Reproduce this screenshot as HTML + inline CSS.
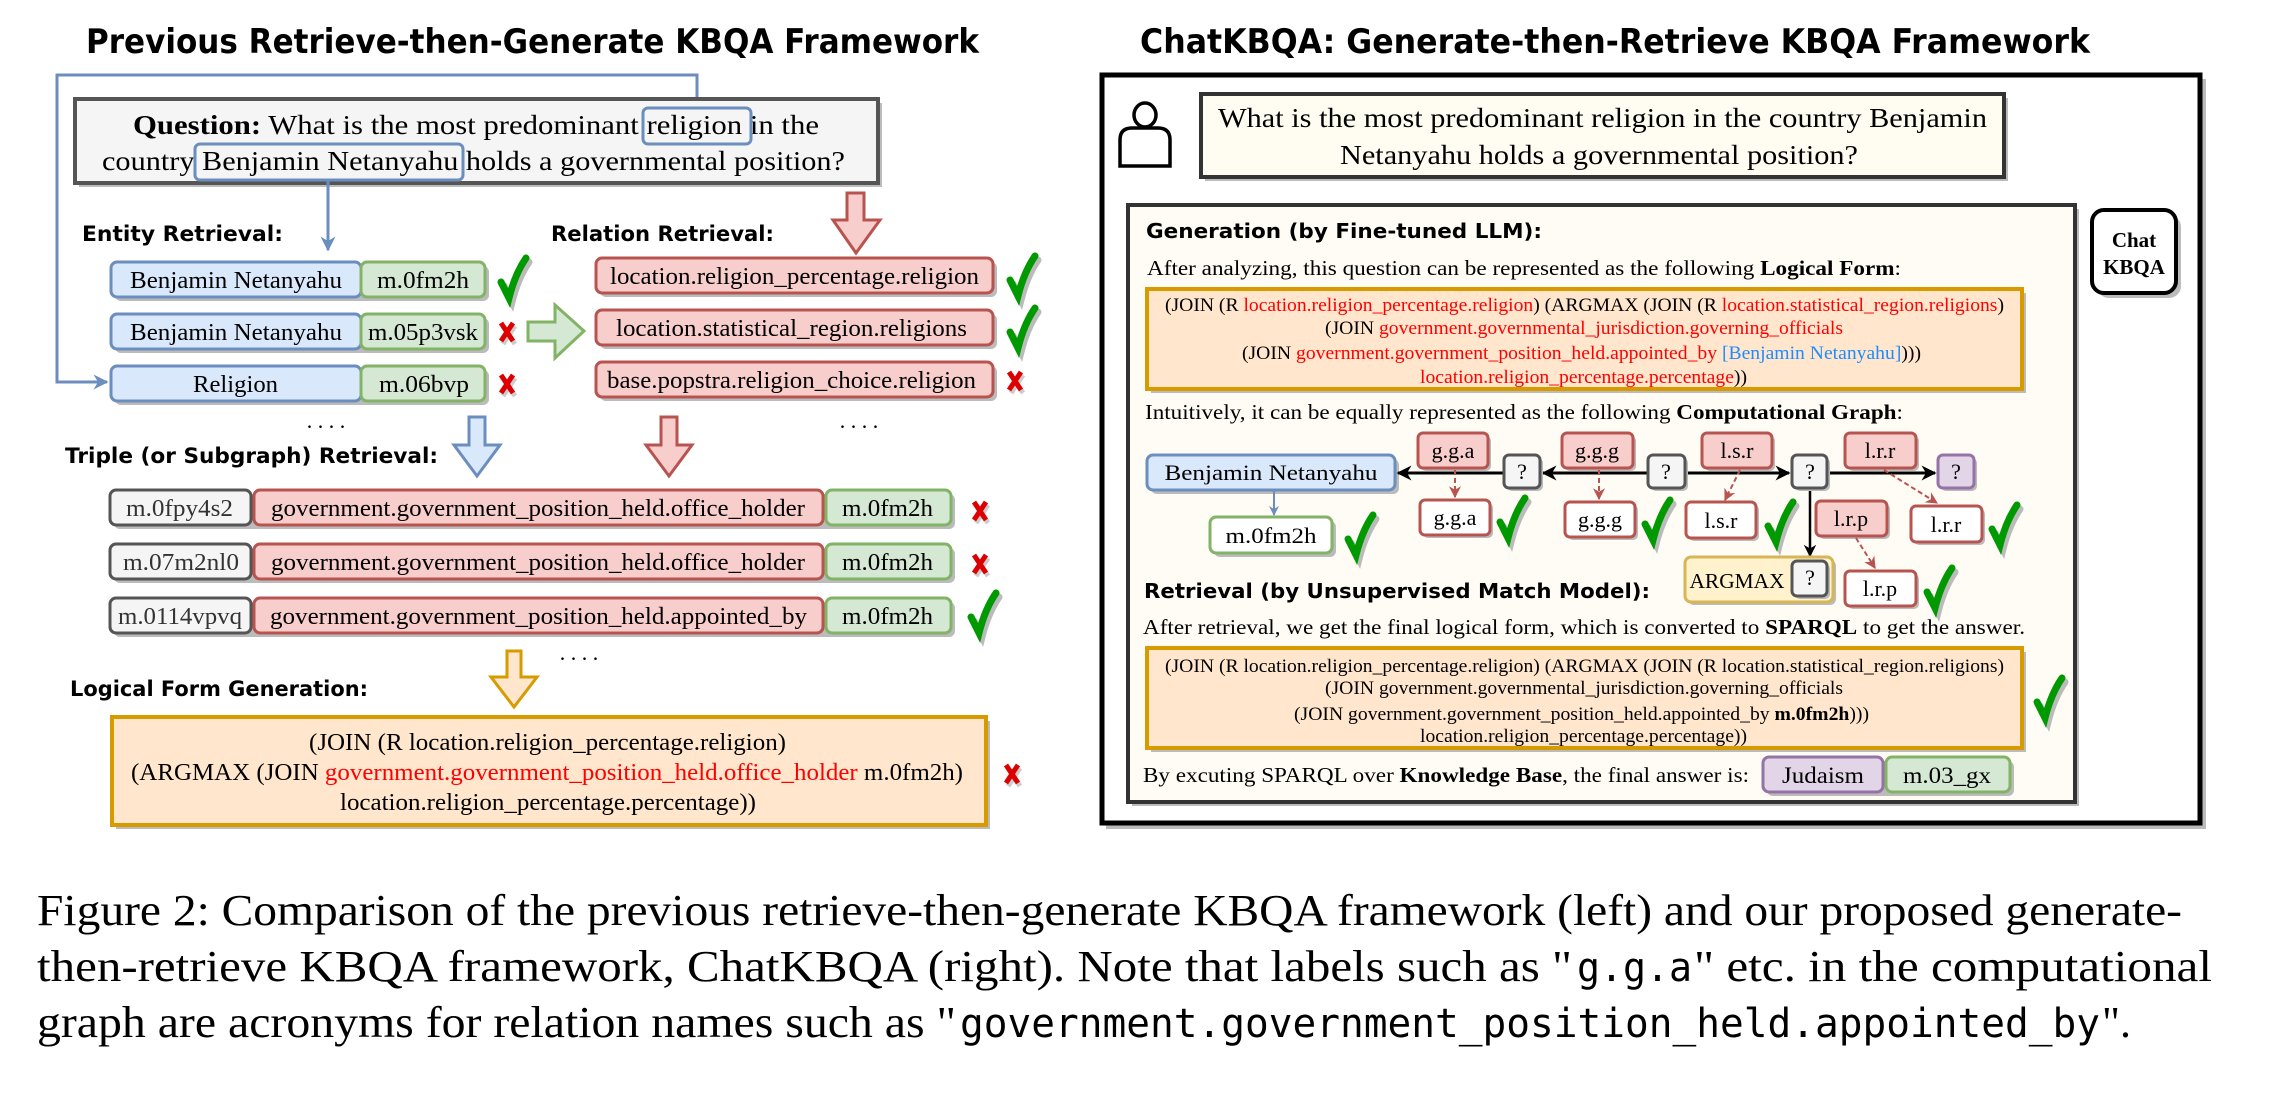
<!DOCTYPE html>
<html><head><meta charset="utf-8"><style>
html,body{margin:0;padding:0;background:#fff;}
svg{display:block;}
.t{font-family:"DejaVu Sans","Liberation Sans",sans-serif;font-weight:bold;fill:#000;}
.s{font-family:"Liberation Serif",serif;fill:#000;}
.m{font-family:"DejaVu Sans Mono","Liberation Mono",monospace;fill:#000;}
</style></head><body>
<svg width="2294" height="1098" viewBox="0 0 2294 1098" xmlns="http://www.w3.org/2000/svg">
<defs>
<marker id="ab" viewBox="0 0 10 10" refX="9" refY="5" markerWidth="5" markerHeight="5" orient="auto"><path d="M0 0L10 5L0 10L3 5z" fill="#6c8ebf"/></marker>
<marker id="ak" viewBox="0 0 10 10" refX="9" refY="5" markerWidth="5" markerHeight="5" orient="auto"><path d="M0 0L10 5L0 10L3 5z" fill="#000"/></marker>
<marker id="ar" viewBox="0 0 10 10" refX="9" refY="5" markerWidth="6" markerHeight="6" orient="auto"><path d="M0 0L10 5L0 10L3 5z" fill="#b85450"/></marker>
<g id="ck"><path d="M-11 2 L-3 18 Q3 -6 14 -22" fill="none" stroke="#bbb" stroke-width="7" stroke-linecap="round" transform="translate(3,4)"/><path d="M-11 2 L-3 18 Q3 -6 14 -22" fill="none" stroke="#009900" stroke-width="7" stroke-linecap="round"/></g>
<g id="xx"><path d="M-6 -9 L6 9 M6 -9 L-6 9" stroke="#ccc" stroke-width="5" transform="translate(2,3)"/><path d="M-6 -9 L6 9 M6 -9 L-6 9" stroke="#d00" stroke-width="5"/></g>
</defs>

<text class="t" x="86" y="53" font-size="34" textLength="893" lengthAdjust="spacingAndGlyphs">Previous Retrieve-then-Generate KBQA Framework</text>

<polyline points="697,108 697,75 57,75 57,382 107,382" fill="none" stroke="#6c8ebf" stroke-width="3" marker-end="url(#ab)"/>

<rect x="79" y="103" width="803" height="84" fill="#bbb"/>
<rect x="75" y="99" width="803" height="84" fill="#f5f5f5" stroke="#555" stroke-width="4"/>
<text class="s" x="133" y="134" font-size="27" textLength="686" lengthAdjust="spacingAndGlyphs"><tspan font-weight="bold">Question:</tspan> What is the most predominant religion in the</text>
<text class="s" x="102" y="170" font-size="27" textLength="743" lengthAdjust="spacingAndGlyphs">country Benjamin Netanyahu holds a governmental position?</text>
<rect x="643" y="108" width="108" height="36" rx="5" fill="none" stroke="#6c8ebf" stroke-width="3"/>
<rect x="195" y="144" width="268" height="36" rx="5" fill="none" stroke="#6c8ebf" stroke-width="3"/>
<line x1="328" y1="180" x2="328" y2="250" stroke="#6c8ebf" stroke-width="3" marker-end="url(#ab)"/>

<text class="t" x="82" y="241" font-size="21" textLength="201" lengthAdjust="spacingAndGlyphs">Entity Retrieval:</text>
<text class="t" x="551" y="241" font-size="21" textLength="223" lengthAdjust="spacingAndGlyphs">Relation Retrieval:</text>

<path d="M847 193 H864 V220 H880 L856 253 L833 220 H847 Z" fill="#f8cecc" stroke="#b85450" stroke-width="3"/>

<g font-size="24" class="s" lengthAdjust="spacingAndGlyphs">
<rect x="115" y="266" width="374" height="35" rx="6" fill="#bbb"/>
<rect x="111" y="262" width="250" height="35" rx="6" fill="#dae8fc" stroke="#6c8ebf" stroke-width="3"/>
<rect x="361" y="262" width="124" height="35" rx="6" fill="#d5e8d4" stroke="#82b366" stroke-width="3"/>
<text x="130" y="288" textLength="212" lengthAdjust="spacingAndGlyphs">Benjamin Netanyahu</text><text x="377" y="288" textLength="92" lengthAdjust="spacingAndGlyphs">m.0fm2h</text>
<rect x="115" y="318" width="374" height="35" rx="6" fill="#bbb"/>
<rect x="111" y="314" width="250" height="35" rx="6" fill="#dae8fc" stroke="#6c8ebf" stroke-width="3"/>
<rect x="361" y="314" width="124" height="35" rx="6" fill="#d5e8d4" stroke="#82b366" stroke-width="3"/>
<text x="130" y="340" textLength="212" lengthAdjust="spacingAndGlyphs">Benjamin Netanyahu</text><text x="368" y="340" textLength="110" lengthAdjust="spacingAndGlyphs">m.05p3vsk</text>
<rect x="115" y="370" width="374" height="35" rx="6" fill="#bbb"/>
<rect x="111" y="366" width="250" height="35" rx="6" fill="#dae8fc" stroke="#6c8ebf" stroke-width="3"/>
<rect x="361" y="366" width="124" height="35" rx="6" fill="#d5e8d4" stroke="#82b366" stroke-width="3"/>
<text x="193" y="392" textLength="85" lengthAdjust="spacingAndGlyphs">Religion</text><text x="379" y="392" textLength="90" lengthAdjust="spacingAndGlyphs">m.06bvp</text>

<rect x="600" y="262" width="397" height="35" rx="6" fill="#bbb"/>
<rect x="596" y="258" width="397" height="35" rx="6" fill="#f8cecc" stroke="#b85450" stroke-width="3"/>
<text x="610" y="284" textLength="369" lengthAdjust="spacingAndGlyphs">location.religion_percentage.religion</text>
<rect x="600" y="314" width="397" height="35" rx="6" fill="#bbb"/>
<rect x="596" y="310" width="397" height="35" rx="6" fill="#f8cecc" stroke="#b85450" stroke-width="3"/>
<text x="616" y="336" textLength="351" lengthAdjust="spacingAndGlyphs">location.statistical_region.religions</text>
<rect x="600" y="366" width="397" height="35" rx="6" fill="#bbb"/>
<rect x="596" y="362" width="397" height="35" rx="6" fill="#f8cecc" stroke="#b85450" stroke-width="3"/>
<text x="607" y="388" textLength="369" lengthAdjust="spacingAndGlyphs">base.popstra.religion_choice.religion</text>
</g>
<use href="#ck" x="512" y="280"/>
<use href="#xx" x="507" y="332"/>
<use href="#xx" x="507" y="384"/>
<use href="#ck" x="1021" y="278"/>
<use href="#ck" x="1021" y="330"/>
<use href="#xx" x="1015" y="381"/>

<path d="M528 322 H555 V305 L584 331 L555 358 V341 H528 Z" fill="#d5e8d4" stroke="#82b366" stroke-width="3"/>

<text class="s" x="326" y="428" font-size="22" text-anchor="middle">. . . .</text>
<text class="s" x="859" y="428" font-size="22" text-anchor="middle">. . . .</text>

<path d="M469 417 H485 V445 H500 L477 476 L454 445 H469 Z" fill="#dae8fc" stroke="#6c8ebf" stroke-width="3"/>
<path d="M661 417 H677 V445 H692 L669 476 L646 445 H661 Z" fill="#f8cecc" stroke="#b85450" stroke-width="3"/>

<text class="t" x="65" y="463" font-size="21" textLength="373" lengthAdjust="spacingAndGlyphs">Triple (or Subgraph) Retrieval:</text>

<g class="s" font-size="24">
<rect x="114" y="494" width="841" height="35" rx="6" fill="#bbb"/>
<rect x="110" y="490" width="141" height="35" rx="6" fill="#f5f5f5" stroke="#555" stroke-width="3"/>
<rect x="254" y="490" width="569" height="35" rx="6" fill="#f8cecc" stroke="#b85450" stroke-width="3"/>
<rect x="826" y="490" width="125" height="35" rx="6" fill="#d5e8d4" stroke="#82b366" stroke-width="3"/>
<text x="126" y="516" fill="#333" textLength="107" lengthAdjust="spacingAndGlyphs">m.0fpy4s2</text><text x="271" y="516" textLength="534" lengthAdjust="spacingAndGlyphs">government.government_position_held.office_holder</text><text x="842" y="516" textLength="91" lengthAdjust="spacingAndGlyphs">m.0fm2h</text>
<rect x="114" y="548" width="841" height="35" rx="6" fill="#bbb"/>
<rect x="110" y="544" width="141" height="35" rx="6" fill="#f5f5f5" stroke="#555" stroke-width="3"/>
<rect x="254" y="544" width="569" height="35" rx="6" fill="#f8cecc" stroke="#b85450" stroke-width="3"/>
<rect x="826" y="544" width="125" height="35" rx="6" fill="#d5e8d4" stroke="#82b366" stroke-width="3"/>
<text x="123" y="570" fill="#333" textLength="116" lengthAdjust="spacingAndGlyphs">m.07m2nl0</text><text x="271" y="570" textLength="534" lengthAdjust="spacingAndGlyphs">government.government_position_held.office_holder</text><text x="842" y="570" textLength="91" lengthAdjust="spacingAndGlyphs">m.0fm2h</text>
<rect x="114" y="602" width="841" height="35" rx="6" fill="#bbb"/>
<rect x="110" y="598" width="141" height="35" rx="6" fill="#f5f5f5" stroke="#555" stroke-width="3"/>
<rect x="254" y="598" width="569" height="35" rx="6" fill="#f8cecc" stroke="#b85450" stroke-width="3"/>
<rect x="826" y="598" width="125" height="35" rx="6" fill="#d5e8d4" stroke="#82b366" stroke-width="3"/>
<text x="118" y="624" fill="#333" textLength="124" lengthAdjust="spacingAndGlyphs">m.0114vpvq</text><text x="270" y="624" textLength="537" lengthAdjust="spacingAndGlyphs">government.government_position_held.appointed_by</text><text x="842" y="624" textLength="91" lengthAdjust="spacingAndGlyphs">m.0fm2h</text>
</g>
<use href="#xx" x="980" y="511"/>
<use href="#xx" x="980" y="564"/>
<use href="#ck" x="982" y="615"/>

<text class="s" x="579" y="660" font-size="22" text-anchor="middle">. . . .</text>
<path d="M507 651 H521 V677 H537 L514 707 L491 677 H507 Z" fill="#ffe6cc" stroke="#d79b00" stroke-width="3"/>

<text class="t" x="70" y="696" font-size="21" textLength="298" lengthAdjust="spacingAndGlyphs">Logical Form Generation:</text>

<rect x="116" y="721" width="874" height="108" fill="#bbb"/>
<rect x="112" y="717" width="874" height="108" fill="#ffe6cc" stroke="#d79b00" stroke-width="4"/>
<g class="s" font-size="24">
<text x="309" y="750" textLength="477" lengthAdjust="spacingAndGlyphs">(JOIN (R location.religion_percentage.religion)</text>
<text x="131" y="780" textLength="832" lengthAdjust="spacingAndGlyphs">(ARGMAX (JOIN <tspan fill="#ff0000">government.government_position_held.office_holder</tspan> m.0fm2h)</text>
<text x="340" y="810" textLength="416" lengthAdjust="spacingAndGlyphs">location.religion_percentage.percentage))</text>
</g>
<use href="#xx" x="1012" y="774"/>

<!-- RIGHT -->
<text class="t" x="1140" y="53" font-size="34" textLength="950" lengthAdjust="spacingAndGlyphs">ChatKBQA: Generate-then-Retrieve KBQA Framework</text>
<rect x="1106" y="79" width="1100" height="750" fill="#bbb"/>
<rect x="1102" y="75" width="1098" height="748" fill="#fff" stroke="#000" stroke-width="5"/>

<g fill="none" stroke="#000" stroke-width="3.5">
<path d="M1120 166 V140 Q1120 128 1132 128 H1158 Q1170 128 1170 140 V166 Z" fill="#fff"/>
<ellipse cx="1145" cy="115" rx="11" ry="12" fill="#fff"/>
</g>
<rect x="1205" y="98" width="803" height="83" fill="#bbb"/>
<rect x="1201" y="94" width="803" height="83" fill="#fffcf2" stroke="#333" stroke-width="4"/>
<g class="s" font-size="27">
<text x="1218" y="127" textLength="769" lengthAdjust="spacingAndGlyphs">What is the most predominant religion in the country Benjamin</text>
<text x="1340" y="164" textLength="518" lengthAdjust="spacingAndGlyphs">Netanyahu holds a governmental position?</text>
</g>

<rect x="2097" y="215" width="84" height="83" rx="12" fill="#bbb"/>
<rect x="2092" y="210" width="84" height="83" rx="12" fill="#fff" stroke="#000" stroke-width="4"/>
<g class="s" font-size="21" font-weight="bold" text-anchor="middle">
<text x="2134" y="247">Chat</text><text x="2134" y="274">KBQA</text>
</g>

<rect x="1132" y="209" width="947" height="597" fill="#bbb"/>
<rect x="1128" y="205" width="947" height="597" fill="#fffcf5" stroke="#333" stroke-width="4"/>

<text class="t" x="1146" y="238" font-size="20" textLength="396" lengthAdjust="spacingAndGlyphs">Generation (by Fine-tuned LLM):</text>
<text class="s" x="1147" y="275" font-size="21" textLength="754" lengthAdjust="spacingAndGlyphs">After analyzing, this question can be represented as the following <tspan font-weight="bold">Logical Form</tspan>:</text>

<rect x="1151" y="293" width="875" height="100" fill="#bbb"/>
<rect x="1147" y="289" width="875" height="100" fill="#ffe6cc" stroke="#d79b00" stroke-width="4"/>
<g class="s" font-size="19">
<text x="1165" y="311" textLength="839" lengthAdjust="spacingAndGlyphs">(JOIN (R <tspan fill="#ff0000">location.religion_percentage.religion</tspan>) (ARGMAX (JOIN (R <tspan fill="#ff0000">location.statistical_region.religions</tspan>)</text>
<text x="1325" y="334" textLength="518" lengthAdjust="spacingAndGlyphs">(JOIN <tspan fill="#ff0000">government.governmental_jurisdiction.governing_officials</tspan></text>
<text x="1242" y="359" textLength="679" lengthAdjust="spacingAndGlyphs">(JOIN <tspan fill="#ff0000">government.government_position_held.appointed_by</tspan> <tspan fill="#1e8cff">[Benjamin Netanyahu]</tspan>)))</text>
<text x="1420" y="383" textLength="327" lengthAdjust="spacingAndGlyphs"><tspan fill="#ff0000">location.religion_percentage.percentage</tspan>))</text>
</g>

<text class="s" x="1145" y="419" font-size="21" textLength="758" lengthAdjust="spacingAndGlyphs">Intuitively, it can be equally represented as the following <tspan font-weight="bold">Computational Graph</tspan>:</text>

<g class="s" font-size="22" text-anchor="middle">
<rect x="1151" y="459" width="248" height="35" rx="6" fill="#bbb"/>
<rect x="1147" y="455" width="248" height="35" rx="6" fill="#dae8fc" stroke="#6c8ebf" stroke-width="3"/>
<text x="1271" y="480" textLength="213" lengthAdjust="spacingAndGlyphs">Benjamin Netanyahu</text>
<line x1="1274" y1="490" x2="1274" y2="515" stroke="#6c8ebf" stroke-width="2" marker-end="url(#ab)"/>
<rect x="1214" y="521" width="122" height="36" rx="6" fill="#bbb"/>
<rect x="1210" y="517" width="122" height="36" rx="6" fill="#fff" stroke="#82b366" stroke-width="3"/>
<text x="1271" y="543" textLength="91" lengthAdjust="spacingAndGlyphs">m.0fm2h</text>

<line x1="1504" y1="473" x2="1398" y2="473" stroke="#000" stroke-width="3" marker-end="url(#ak)"/>
<line x1="1648" y1="473" x2="1543" y2="473" stroke="#000" stroke-width="3" marker-end="url(#ak)"/>
<line x1="1685" y1="473" x2="1789" y2="473" stroke="#000" stroke-width="3" marker-end="url(#ak)"/>
<line x1="1827" y1="473" x2="1935" y2="473" stroke="#000" stroke-width="3" marker-end="url(#ak)"/>
<line x1="1810" y1="488" x2="1810" y2="556" stroke="#000" stroke-width="2.5" marker-end="url(#ak)"/>

<rect x="1421" y="436" width="70" height="35" rx="5" fill="#bbb"/><rect x="1418" y="433" width="70" height="35" rx="5" fill="#f8cecc" stroke="#b85450" stroke-width="3"/><text x="1453" y="458">g.g.a</text>
<rect x="1565" y="436" width="71" height="35" rx="5" fill="#bbb"/><rect x="1562" y="433" width="71" height="35" rx="5" fill="#f8cecc" stroke="#b85450" stroke-width="3"/><text x="1597" y="458">g.g.g</text>
<rect x="1705" y="436" width="70" height="35" rx="5" fill="#bbb"/><rect x="1702" y="433" width="70" height="35" rx="5" fill="#f8cecc" stroke="#b85450" stroke-width="3"/><text x="1737" y="458">l.s.r</text>
<rect x="1848" y="436" width="71" height="35" rx="5" fill="#bbb"/><rect x="1845" y="433" width="71" height="35" rx="5" fill="#f8cecc" stroke="#b85450" stroke-width="3"/><text x="1880" y="458">l.r.r</text>
<rect x="1819" y="504" width="71" height="35" rx="5" fill="#bbb"/><rect x="1816" y="501" width="71" height="35" rx="5" fill="#f8cecc" stroke="#b85450" stroke-width="3"/><text x="1851" y="526">l.r.p</text>

<rect x="1507" y="458" width="36" height="33" rx="5" fill="#bbb"/><rect x="1504" y="455" width="36" height="33" rx="5" fill="#f5f5f5" stroke="#555" stroke-width="3"/><text x="1522" y="479">?</text>
<rect x="1651" y="458" width="37" height="33" rx="5" fill="#bbb"/><rect x="1648" y="455" width="37" height="33" rx="5" fill="#f5f5f5" stroke="#555" stroke-width="3"/><text x="1666" y="479">?</text>
<rect x="1795" y="458" width="35" height="33" rx="5" fill="#bbb"/><rect x="1792" y="455" width="35" height="33" rx="5" fill="#f5f5f5" stroke="#555" stroke-width="3"/><text x="1810" y="479">?</text>
<rect x="1941" y="458" width="36" height="33" rx="5" fill="#bbb"/><rect x="1938" y="455" width="36" height="33" rx="5" fill="#e1d5e7" stroke="#9673a6" stroke-width="3"/><text x="1956" y="479">?</text>

<g stroke="#b85450" stroke-width="2" stroke-dasharray="5,3" fill="none">
<line x1="1455" y1="470" x2="1455" y2="497" marker-end="url(#ar)"/>
<line x1="1599" y1="470" x2="1599" y2="499" marker-end="url(#ar)"/>
<line x1="1740" y1="470" x2="1725" y2="500" marker-end="url(#ar)"/>
<line x1="1884" y1="470" x2="1937" y2="503" marker-end="url(#ar)"/>
<line x1="1856" y1="538" x2="1875" y2="568" marker-end="url(#ar)"/>
</g>

<rect x="1423" y="503" width="70" height="35" rx="5" fill="#bbb"/><rect x="1420" y="500" width="70" height="35" rx="5" fill="#fff" stroke="#b85450" stroke-width="3"/><text x="1455" y="525">g.g.a</text>
<rect x="1568" y="505" width="70" height="35" rx="5" fill="#bbb"/><rect x="1565" y="502" width="70" height="35" rx="5" fill="#fff" stroke="#b85450" stroke-width="3"/><text x="1600" y="527">g.g.g</text>
<rect x="1689" y="505" width="70" height="36" rx="5" fill="#bbb"/><rect x="1686" y="502" width="70" height="36" rx="5" fill="#fff" stroke="#b85450" stroke-width="3"/><text x="1721" y="528">l.s.r</text>
<rect x="1914" y="509" width="71" height="36" rx="5" fill="#bbb"/><rect x="1911" y="506" width="71" height="36" rx="5" fill="#fff" stroke="#b85450" stroke-width="3"/><text x="1946" y="532">l.r.r</text>
<rect x="1848" y="574" width="71" height="35" rx="5" fill="#bbb"/><rect x="1845" y="571" width="71" height="35" rx="5" fill="#fff" stroke="#b85450" stroke-width="3"/><text x="1880" y="596">l.r.p</text>

<rect x="1688" y="560" width="148" height="45" rx="6" fill="#bbb"/>
<rect x="1685" y="557" width="148" height="45" rx="6" fill="#fff2cc" stroke="#d6b656" stroke-width="3"/>
<text x="1737" y="588" font-size="21" textLength="95" lengthAdjust="spacingAndGlyphs">ARGMAX</text>
<rect x="1795" y="564" width="35" height="35" rx="5" fill="#bbb"/><rect x="1792" y="561" width="35" height="35" rx="5" fill="#f5f5f5" stroke="#555" stroke-width="3"/><text x="1810" y="585">?</text>
</g>
<use href="#ck" x="1359" y="537"/>
<use href="#ck" x="1511" y="520"/>
<use href="#ck" x="1656" y="522"/>
<use href="#ck" x="1779" y="524"/>
<use href="#ck" x="2003" y="527"/>
<use href="#ck" x="1938" y="590"/>

<text class="t" x="1144" y="598" font-size="20" textLength="506" lengthAdjust="spacingAndGlyphs">Retrieval (by Unsupervised Match Model):</text>
<text class="s" x="1143" y="634" font-size="21" textLength="882" lengthAdjust="spacingAndGlyphs">After retrieval, we get the final logical form, which is converted to <tspan font-weight="bold">SPARQL</tspan> to get the answer.</text>

<rect x="1151" y="652" width="875" height="100" fill="#bbb"/>
<rect x="1147" y="648" width="875" height="100" fill="#ffe6cc" stroke="#d79b00" stroke-width="4"/>
<g class="s" font-size="19">
<text x="1165" y="672" textLength="839" lengthAdjust="spacingAndGlyphs">(JOIN (R location.religion_percentage.religion) (ARGMAX (JOIN (R location.statistical_region.religions)</text>
<text x="1325" y="694" textLength="518" lengthAdjust="spacingAndGlyphs">(JOIN government.governmental_jurisdiction.governing_officials</text>
<text x="1294" y="720" textLength="575" lengthAdjust="spacingAndGlyphs">(JOIN government.government_position_held.appointed_by <tspan font-weight="bold">m.0fm2h</tspan>)))</text>
<text x="1420" y="742" textLength="327" lengthAdjust="spacingAndGlyphs">location.religion_percentage.percentage))</text>
</g>
<use href="#ck" x="2048" y="700"/>

<text class="s" x="1143" y="782" font-size="21" textLength="606" lengthAdjust="spacingAndGlyphs">By excuting SPARQL over <tspan font-weight="bold">Knowledge Base</tspan>, the final answer is:</text>
<rect x="1767" y="761" width="247" height="35" rx="6" fill="#bbb"/>
<rect x="1763" y="757" width="120" height="35" rx="6" fill="#e1d5e7" stroke="#9673a6" stroke-width="3"/>
<rect x="1886" y="757" width="124" height="35" rx="6" fill="#d5e8d4" stroke="#82b366" stroke-width="3"/>
<g class="s" font-size="23"><text x="1782" y="783" textLength="82" lengthAdjust="spacingAndGlyphs">Judaism</text><text x="1903" y="783" textLength="88" lengthAdjust="spacingAndGlyphs">m.03_gx</text></g>

<!-- caption -->
<g class="s" font-size="44">
<text x="37" y="925" textLength="2145" lengthAdjust="spacingAndGlyphs">Figure 2: Comparison of the previous retrieve-then-generate KBQA framework (left) and our proposed generate-</text>
<text x="37" y="981" textLength="1535" lengthAdjust="spacingAndGlyphs">then-retrieve KBQA framework, ChatKBQA (right). Note that labels such as "</text>
<text class="m" x="1577" y="981" font-size="40" textLength="115" lengthAdjust="spacingAndGlyphs">g.g.a</text>
<text x="1694" y="981" textLength="518" lengthAdjust="spacingAndGlyphs">" etc. in the computational</text>
<text x="37" y="1037" textLength="919" lengthAdjust="spacingAndGlyphs">graph are acronyms for relation names such as "</text>
<text class="m" x="960" y="1037" font-size="40" textLength="1140" lengthAdjust="spacingAndGlyphs">government.government_position_held.appointed_by</text>
<text x="2102" y="1037" textLength="29" lengthAdjust="spacingAndGlyphs">".</text>
</g>
</svg>
</body></html>
